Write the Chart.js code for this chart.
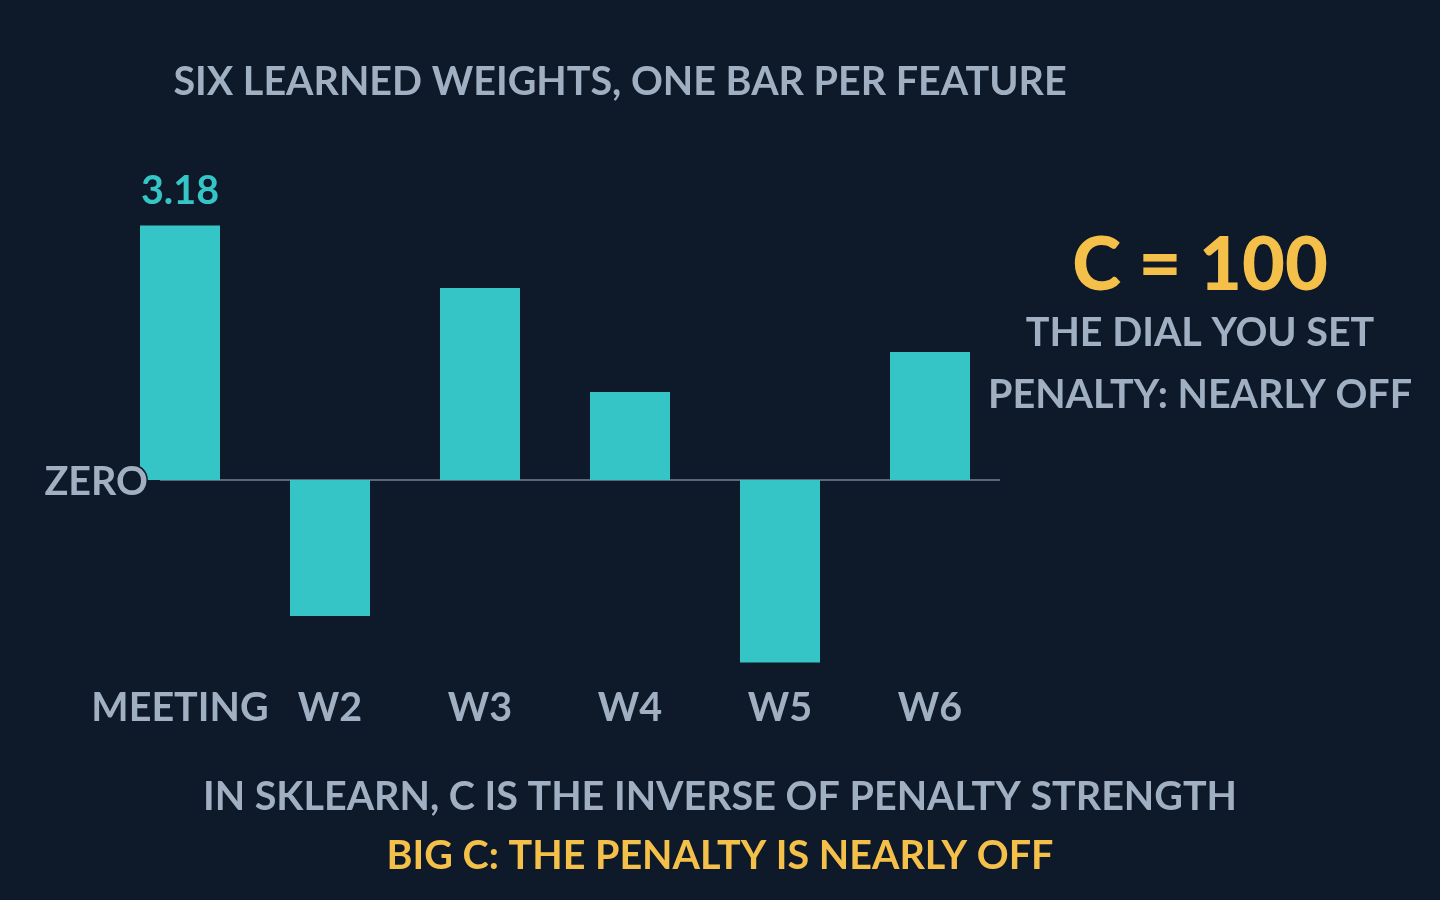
<!DOCTYPE html>
<html>
<head>
<meta charset="utf-8">
<title>Six learned weights</title>
<script src="https://cdn.jsdelivr.net/npm/chart.js@4.4.1/dist/chart.umd.min.js"></script>
<style>
  html, body { margin: 0; padding: 0; background: #0e1a2a; }
  #weights { display: block; }
</style>
</head>
<body>
<canvas id="weights" width="1440" height="900"></canvas>
<script>
// values
const features = ['MEETING', 'W2', 'W3', 'W4', 'W5', 'W6'];
const weights = [3.18, -1.70, 2.40, 1.10, -2.28, 1.60];
const labelledBar = 0;           // only the first bar carries its value
const zeroLabel = 'ZERO';

const BG = '#0e1a2a';
const TEAL = '#36c5c6';
const GREY = '#a0b0c2';
const GOLD = '#f5c04a';
const FONT = 'Lato, "Noto Sans", sans-serif';
const SIZE = 39.5;

function text(ctx, str, x, y, size, color, align, weight) {
  ctx.save();
  ctx.font = `${weight || 'bold'} ${size}px ${FONT}`;
  ctx.textAlign = align || 'center';
  ctx.textBaseline = 'alphabetic';
  ctx.lineJoin = 'round';
  ctx.lineWidth = 3;
  ctx.strokeStyle = BG;
  ctx.strokeText(str, x, y);
  ctx.fillStyle = color;
  ctx.fillText(str, x, y);
  ctx.restore();
}

// background + zero line under the bars
const underlay = {
  id: 'underlay',
  beforeDraw(chart) {
    const { ctx, width, height } = chart;
    ctx.save();
    ctx.fillStyle = BG;
    ctx.fillRect(0, 0, width, height);
    ctx.restore();
  },
  beforeDatasetsDraw(chart) {
    const { ctx, scales } = chart;
    const y0 = scales.y.getPixelForValue(0);
    ctx.save();
    ctx.strokeStyle = '#56687a';
    ctx.lineWidth = 2;
    ctx.beginPath();
    ctx.moveTo(160, y0);
    ctx.lineTo(1000, y0);
    ctx.stroke();
    ctx.restore();
  }
};

// texts on top
const overlay = {
  id: 'overlay',
  afterDatasetsDraw(chart) {
    const { ctx, scales } = chart;
    const y0 = scales.y.getPixelForValue(0);
    text(ctx, zeroLabel, 148, y0 + 15, SIZE, GREY, 'right');

    const bar = chart.getDatasetMeta(0).data[labelledBar];
    text(ctx, weights[labelledBar].toFixed(2), bar.x, bar.y - 22, SIZE, TEAL);
  },
  afterDraw(chart) {
    const { ctx } = chart;
    text(ctx, 'SIX LEARNED WEIGHTS, ONE BAR PER FEATURE', 620, 95, SIZE, GREY);

    text(ctx, 'C = 100', 1200, 290, 74, GOLD, 'center', 900);
    text(ctx, 'THE DIAL YOU SET', 1200, 346, SIZE, GREY);
    text(ctx, 'PENALTY: NEARLY OFF', 1200, 408, SIZE, GREY);

    text(ctx, 'IN SKLEARN, C IS THE INVERSE OF PENALTY STRENGTH', 720, 810, SIZE, GREY);
    text(ctx, 'BIG C: THE PENALTY IS NEARLY OFF', 720, 869, SIZE, GOLD);
  }
};

new Chart(document.getElementById('weights'), {
  type: 'bar',
  data: {
    labels: features,
    datasets: [{
      data: weights,
      backgroundColor: TEAL,
      borderWidth: 0,
      categoryPercentage: 1,
      barPercentage: 80 / 150
    }]
  },
  options: {
    responsive: false,
    animation: false,
    layout: {
      padding: { left: 105, right: 435, top: 200, bottom: 170 }
    },
    plugins: {
      legend: { display: false },
      tooltip: { enabled: false }
    },
    scales: {
      x: {
        grid: { display: false, drawTicks: false },
        border: { display: false },
        afterFit(scale) { scale.height = 50; },
        ticks: {
          color: GREY,
          font: { family: FONT, size: SIZE, weight: 'bold' },
          padding: 5,
          autoSkip: false,
          maxRotation: 0,
          minRotation: 0
        }
      },
      y: {
        display: false,
        min: -2.5,
        max: 3.5
      }
    }
  },
  plugins: [underlay, overlay]
});
</script>
</body>
</html>
